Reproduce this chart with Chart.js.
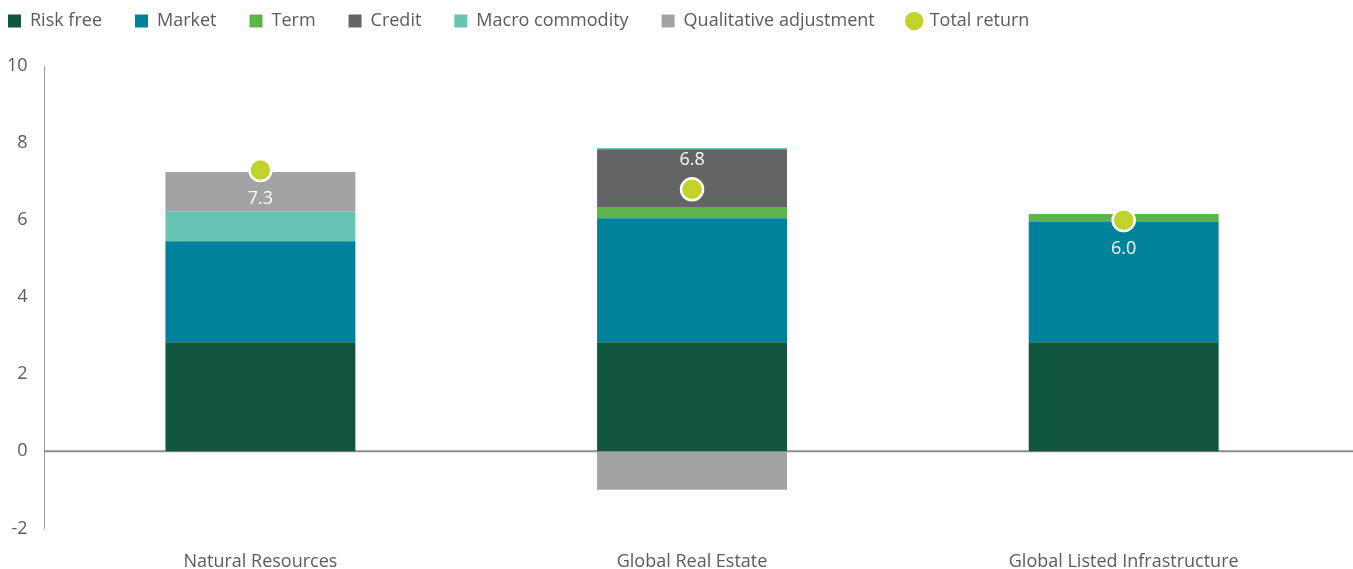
<!DOCTYPE html>
<html>
<head>
<meta charset="utf-8">
<script src="https://cdn.jsdelivr.net/npm/chart.js@4.4.1/dist/chart.umd.min.js"></script>
<style>
  html, body { margin: 0; padding: 0; background: #fff; }
  #wrap { width: 1353px; height: 569px; }
</style>
</head>
<body>
<div id="wrap"><canvas id="returns-chart"></canvas></div>
<script>
// return building blocks per asset class
const categories = ["Natural Resources", "Global Real Estate", "Global Listed Infrastructure"];
const riskFree = [2.83, 2.83, 2.83];
const market = [2.62, 3.22, 3.12];
const term = [0, 0.29, 0.21];
const credit = [0, 1.5, 0];
const macroCommodity = [0.78, 0.03, 0];
const qualitative = [1.02, -1.0, 0];
const totalReturn = [7.3, 6.8, 6.0];
const totalLabelSide = ["below", "above", "below"];
const yTicks = [-2, 0, 2, 4, 6, 8, 10];

const textGrey = "#5b5b5b";
const fontFamily = "'Open Sans', Lato, sans-serif";

function barSet(label, data, color) {
    return {
        type: "bar",
        label: label,
        data: data,
        backgroundColor: color,
        borderWidth: 0,
        stack: "s",
        pointStyle: "rect",
        barPercentage: 0.44,
        categoryPercentage: 1.0,
        order: 2
    };
}

// extra room between legend and plot, legend pulled to the left edge
const legendMargin = {
    id: "legendMargin",
    beforeInit(chart) {
        const fit = chart.legend.fit;
        chart.legend.fit = function () {
            fit.bind(chart.legend)();
            this.height += 26;
        };
    },
    afterLayout(chart) {
        chart.legend.left -= 23;
    }
};

// zero line running out to the right edge
const zeroLine = {
    id: "zeroLine",
    beforeDatasetsDraw(chart) {
        const y = chart.scales.y.getPixelForValue(0);
        const c = chart.ctx;
        c.save();
        c.strokeStyle = "#8c8c8c";
        c.lineWidth = 2;
        c.beginPath();
        c.moveTo(chart.chartArea.left, y);
        c.lineTo(chart.width, y);
        c.stroke();
        c.restore();
    }
};

// white value text next to each total-return dot
const totalLabels = {
    id: "totalLabels",
    afterDatasetsDraw(chart) {
        const c = chart.ctx;
        const meta = chart.getDatasetMeta(chart.data.datasets.length - 1);
        c.save();
        c.fillStyle = "#ffffff";
        c.font = "18px " + fontFamily;
        c.textAlign = "center";
        c.textBaseline = "middle";
        meta.data.forEach((pt, i) => {
            const dy = totalLabelSide[i] === "above" ? -29 : 29;
            c.fillText(totalReturn[i].toFixed(1), pt.x, pt.y + dy);
        });
        c.restore();
    }
};

const ctx = document.getElementById("returns-chart").getContext("2d");

new Chart(ctx, {
    data: {
        labels: categories,
        datasets: [
            barSet("Risk free", riskFree, "#115740"),
            barSet("Market", market, "#00829b"),
            barSet("Term", term, "#5bb548"),
            barSet("Credit", credit, "#636466"),
            barSet("Macro commodity", macroCommodity, "#69c5b3"),
            barSet("Qualitative adjustment", qualitative, "#a1a3a5"),
            {
                type: "line",
                label: "Total return",
                data: totalReturn,
                showLine: false,
                pointStyle: "circle",
                pointRadius: 11,
                pointHoverRadius: 11,
                pointBackgroundColor: "#c1d22b",
                pointBorderColor: "#ffffff",
                pointBorderWidth: 2.5,
                backgroundColor: "#c1d22b",
                borderColor: "#c1d22b",
                order: 1
            }
        ]
    },
    options: {
        responsive: true,
        maintainAspectRatio: false,
        animation: false,
        layout: { padding: { left: -2, right: 2, top: -21, bottom: -19 } },
        plugins: {
            tooltip: { enabled: false },
            legend: {
                position: "top",
                align: "start",
                labels: {
                    usePointStyle: true,
                    boxWidth: 13,
                    boxHeight: 13,
                    padding: 33,
                    color: textGrey,
                    font: { family: fontFamily, size: 18 },
                    generateLabels(chart) {
                        const items = Chart.defaults.plugins.legend.labels.generateLabels(chart);
                        items.forEach(it => { it.lineWidth = 0; });
                        return items.sort((a, b) => a.datasetIndex - b.datasetIndex);
                    }
                }
            }
        },
        scales: {
            x: {
                stacked: true,
                grid: { display: false },
                border: { display: false },
                ticks: {
                    color: textGrey,
                    padding: 15,
                    font: { family: fontFamily, size: 18 }
                }
            },
            y: {
                stacked: true,
                min: -2,
                max: 10,
                afterBuildTicks(axis) {
                    axis.ticks = yTicks.map(v => ({ value: v }));
                },
                grid: { display: false },
                border: { display: true, color: "#9a9a9a", width: 1 },
                ticks: {
                    color: textGrey,
                    padding: 9,
                    font: { family: fontFamily, size: 18 }
                }
            }
        }
    },
    plugins: [legendMargin, zeroLine, totalLabels]
});
</script>
</body>
</html>
